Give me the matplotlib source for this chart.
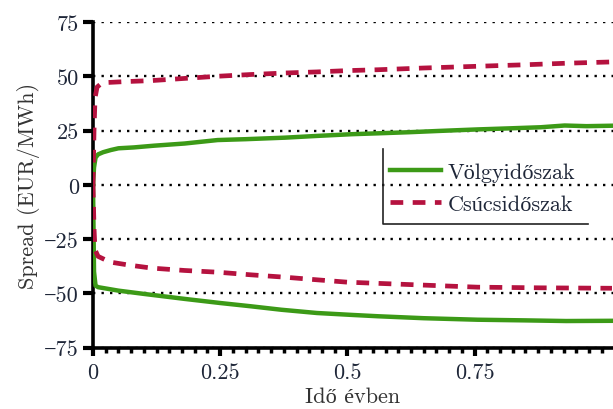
import matplotlib
matplotlib.use('Agg')
import matplotlib.pyplot as plt
from matplotlib.ticker import MultipleLocator, FixedLocator
import numpy as np

plt.rcParams['font.family'] = ['cmr10', 'Liberation Serif', 'DejaVu Serif']
plt.rcParams['axes.unicode_minus'] = True
plt.rcParams['mathtext.fontset'] = 'cm'

# Völgyidőszak (green), upper and lower band
green_up_x = [0, 0.002, 0.005, 0.01, 0.02, 0.035, 0.05, 0.08, 0.12, 0.18, 0.245, 0.3, 0.377,
              0.44, 0.509, 0.56, 0.62, 0.68, 0.756, 0.82, 0.88, 0.927, 0.97, 1.02]
green_up_y = [0, 8, 12.5, 14, 15, 16, 16.8, 17.2, 18, 19, 20.6, 21, 21.7,
              22.5, 23.3, 23.7, 24.2, 24.8, 25.5, 26, 26.5, 27.3, 27, 27.2]
green_lo_x = [0, 0.002, 0.005, 0.01, 0.05, 0.1, 0.18, 0.25, 0.31, 0.37, 0.44, 0.51,
              0.56, 0.65, 0.756, 0.85, 0.93, 1.02]
green_lo_y = [0, -40, -46.5, -47.2, -48.8, -50.3, -52.6, -54.5, -56, -57.6, -59.1, -60,
              -60.6, -61.5, -62.2, -62.5, -62.8, -62.7]

# Csúcsidőszak (red dashed), upper and lower band
red_up_x = [0, 0.002, 0.004, 0.008, 0.018, 0.06, 0.115, 0.18, 0.245, 0.31, 0.377, 0.44,
            0.5, 0.56, 0.65, 0.756, 0.85, 0.93, 1.02]
red_up_y = [0, 25, 40, 45, 47, 47.5, 48, 49, 50, 50.8, 51.5, 52,
            52.6, 53, 53.8, 54.6, 55.3, 56, 56.6]
red_lo_x = [0, 0.002, 0.004, 0.01, 0.033, 0.07, 0.115, 0.18, 0.245, 0.31, 0.377, 0.44,
            0.5, 0.6, 0.756, 0.88, 1.02]
red_lo_y = [0, -20, -30, -33, -35.6, -37, -38.4, -39.5, -40.3, -41.5, -42.6, -43.8,
            -44.9, -45.8, -47.2, -47.5, -47.7]

xticks = [0, 0.25, 0.5, 0.75]
xticklabels = ['0', '0.25', '0.5', '0.75']
yticks = [-75, -50, -25, 0, 25, 50, 75]

green = '#3c9a17'
red = '#b5123f'
txt = '#1e2638'

fig = plt.figure(figsize=(6.13, 4.10), dpi=100)
ax = fig.add_axes([93/613, 1-348.5/410, 1-93/613, (348.5-23)/410])

for y in yticks:
    ax.axhline(y, color='black', lw=1.7, ls=(0, (1, 2.6)), zorder=1)

ax.plot(green_up_x, green_up_y, color=green, lw=3.2, label='Völgyidőszak', zorder=3)
ax.plot(green_lo_x, green_lo_y, color=green, lw=3.2, zorder=3)
ax.plot(red_up_x, red_up_y, color=red, lw=3.4, ls=(0, (2.7, 2.0)), label='Csúcsidőszak', zorder=4)
ax.plot(red_lo_x, red_lo_y, color=red, lw=3.4, ls=(0, (2.7, 2.0)), zorder=4)

ax.set_xlim(0, 1.022)
ax.set_ylim(-75, 75)
ax.spines['top'].set_visible(False)
ax.spines['right'].set_visible(False)
ax.spines['left'].set_linewidth(2.6)
ax.spines['bottom'].set_linewidth(2.6)

ax.xaxis.set_major_locator(FixedLocator(xticks))
ax.set_xticklabels(xticklabels)
ax.xaxis.set_minor_locator(MultipleLocator(0.025))
ax.set_yticks(yticks)
ax.set_yticklabels([str(v).replace('-', '\u2212') for v in yticks])
ax.tick_params(axis='y', which='major', direction='out', length=7, width=3, labelsize=16,
               labelcolor=txt, pad=3)
ax.tick_params(axis='x', which='major', direction='out', length=6, width=3, labelsize=16,
               labelcolor=txt, pad=5)
ax.tick_params(axis='x', which='minor', direction='out', length=3.5, width=2.5)

ax.set_ylabel('Spread (EUR/MWh)', fontsize=16, color='#333333', labelpad=3)
ax.set_xlabel('Idő évben', fontsize=16, color='#333333', labelpad=3)

leg = ax.legend(loc='center left', bbox_to_anchor=(0.571, 0.49), frameon=False,
                fontsize=16, handlelength=2.3, handletextpad=0.3, borderpad=0,
                borderaxespad=0, labelspacing=0.55)
for t in leg.get_texts():
    t.set_color(txt)
ax.plot([0.558, 0.558, 0.952], [0.61, 0.379, 0.379], color='#222222', lw=1.2,
        transform=ax.transAxes, clip_on=False, zorder=5)

fig.savefig('out.png', dpi=100)
